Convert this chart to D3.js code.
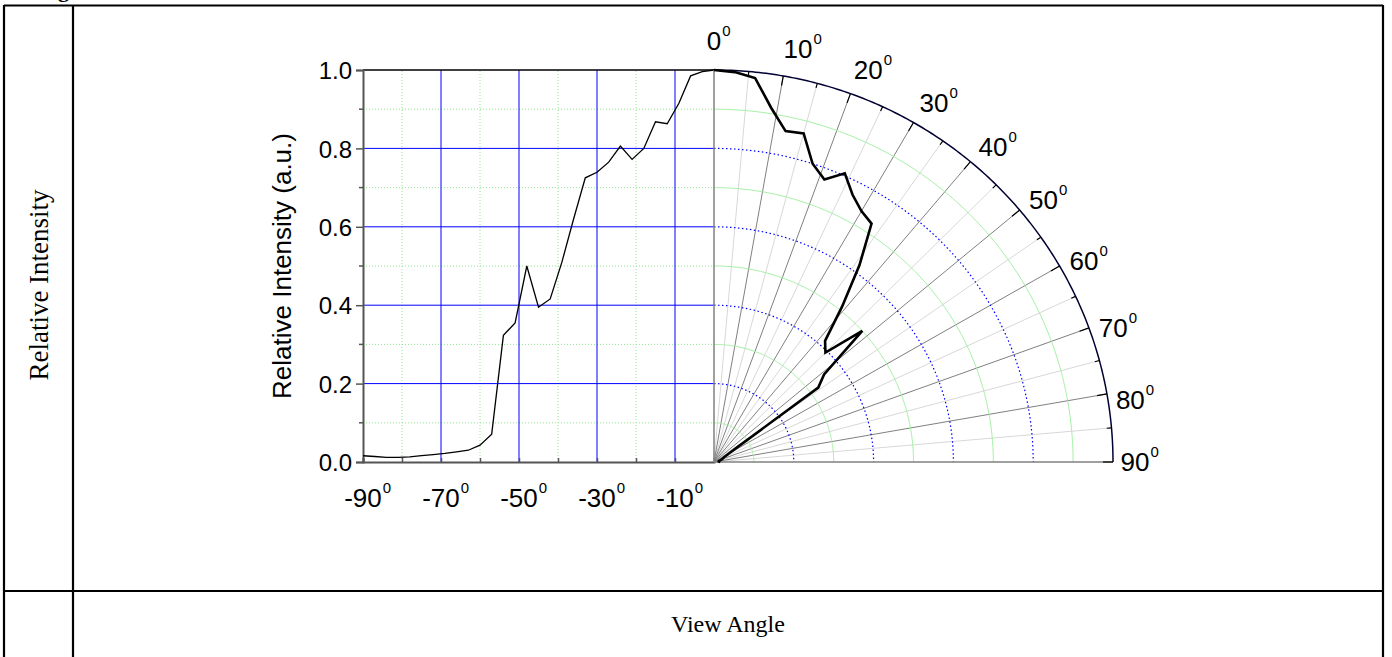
<!DOCTYPE html>
<html>
<head>
<meta charset="utf-8">
<script src="https://cdn.jsdelivr.net/npm/d3@7"></script>
<style>
  body { margin: 0; background: #fff; }
  svg { display: block; }
</style>
</head>
<body>
<svg width="1392" height="657"></svg>
<script>
// view angle (deg) and relative intensity, same curve both sides
var angles = [0,3,6,9,12,15,18,21,24,27,30,33,36,39,42,45,48,51,54,57,60,63,66,69,72,75,78,81,84,87,90];
var intensity = [1.0,0.996,0.985,0.915,0.863,0.868,0.800,0.772,0.806,0.765,0.739,0.725,0.62,0.51,0.416,0.395,0.50,0.355,0.323,0.071,0.043,0.030,0.026,0.022,0.019,0.016,0.013,0.012,0.012,0.014,0.016];

var yTicks = [0, 0.2, 0.4, 0.6, 0.8, 1.0];
var yTickLabels = ["0.0","0.2","0.4","0.6","0.8","1.0"];
var yMinor = [0.1, 0.3, 0.5, 0.7, 0.9];
var xTicks = [-90, -70, -50, -30, -10];
var xMinor = [-80, -60, -40, -20];
var polarLabels = [0,10,20,30,40,50,60,70,80,90];
var blueRings = [0.2, 0.4, 0.6, 0.8];
var greenRings = [0.1, 0.3, 0.5, 0.7, 0.9];

var svg = d3.select("svg");
var sans = "'Liberation Sans', Arial, sans-serif";
var serif = "'Liberation Serif', 'Times New Roman', serif";

// ---- table frame ----
var frame = svg.append("g").attr("stroke", "#000").attr("stroke-width", 2.2);
frame.append("line").attr("x1", 4).attr("x2", 1383).attr("y1", 5.5).attr("y2", 5.5);
frame.append("line").attr("x1", 4).attr("x2", 4).attr("y1", 5).attr("y2", 657);
frame.append("line").attr("x1", 73).attr("x2", 73).attr("y1", 5).attr("y2", 657);
frame.append("line").attr("x1", 1383).attr("x2", 1383).attr("y1", 5).attr("y2", 657);
frame.append("line").attr("x1", 4).attr("x2", 1383).attr("y1", 591).attr("y2", 591);

// caption line above the table, only its bottom edge shows
svg.append("text").attr("x", 30).attr("y", -3).attr("font-family", serif)
  .attr("font-size", 22).attr("font-weight", "bold").text("Angle");

svg.append("text")
  .attr("transform", "translate(48,285) rotate(-90)")
  .attr("text-anchor", "middle").attr("font-family", serif).attr("font-size", 27)
  .text("Relative Intensity");
svg.append("text").attr("x", 728).attr("y", 632)
  .attr("text-anchor", "middle").attr("font-family", serif).attr("font-size", 24)
  .text("View Angle");

// ---- cartesian half ----
var x = d3.scaleLinear().domain([-90, 0]).range([363, 714]);
var y = d3.scaleLinear().domain([0, 1]).range([462, 70]);

var g = svg.append("g");
g.selectAll(".gv").data(xMinor).enter().append("line")
  .attr("x1", d => x(d)).attr("x2", d => x(d)).attr("y1", y(0)).attr("y2", y(1))
  .attr("stroke", "#8fe88f").attr("stroke-dasharray", "1,2");
g.selectAll(".gh").data(yMinor).enter().append("line")
  .attr("x1", x(-90)).attr("x2", x(0)).attr("y1", d => y(d)).attr("y2", d => y(d))
  .attr("stroke", "#8fe88f").attr("stroke-dasharray", "1,2");
g.selectAll(".bv").data(xTicks.slice(1)).enter().append("line")
  .attr("x1", d => x(d)).attr("x2", d => x(d)).attr("y1", y(0)).attr("y2", y(1))
  .attr("stroke", "#0000ff");
g.selectAll(".bh").data([0.2, 0.4, 0.6, 0.8]).enter().append("line")
  .attr("x1", x(-90)).attr("x2", x(0)).attr("y1", d => y(d)).attr("y2", d => y(d))
  .attr("stroke", "#0000ff");
g.append("line").attr("x1", x(-90)).attr("x2", x(0)).attr("y1", y(1)).attr("y2", y(1))
  .attr("stroke", "#000").attr("stroke-width", 1.3);

// axes
var yAxis = g.append("g").attr("transform", "translate(" + x(-90) + ",0)")
  .call(d3.axisLeft(y).tickValues(yTicks).tickSize(7).tickFormat((d, i) => yTickLabels[i]));
yAxis.select(".domain").attr("stroke", "#555").attr("stroke-width", 2);
yAxis.selectAll(".tick line").attr("stroke", "#555").attr("stroke-width", 1.5);
yAxis.selectAll("text").attr("font-family", sans).attr("font-size", 24).attr("fill", "#000")
  .attr("x", -11).attr("dy", "0.36em");
yAxis.selectAll(".minor").data(yMinor).enter().append("line")
  .attr("x1", -4).attr("x2", 0).attr("y1", d => y(d)).attr("y2", d => y(d))
  .attr("stroke", "#555").attr("stroke-width", 1.5);

var xAxis = g.append("g").attr("transform", "translate(0," + y(0) + ")")
  .call(d3.axisBottom(x).tickValues(xTicks.concat(xMinor)).tickSize(-4).tickFormat(""));
xAxis.select(".domain").attr("stroke", "#555").attr("stroke-width", 2);
xAxis.selectAll(".tick line").attr("stroke", "#555").attr("stroke-width", 1.5);

xTicks.forEach(function(d) {
  var t = g.append("text").attr("x", x(d)).attr("y", 507).attr("text-anchor", "middle")
    .attr("font-family", sans).attr("font-size", 26).text(d);
  var w = t.node().getComputedTextLength();
  g.append("text").attr("x", x(d) + w / 2 + 1).attr("y", 493)
    .attr("font-family", sans).attr("font-size", 15).text("0");
});

svg.append("text")
  .attr("transform", "translate(291," + y(0.5) + ") rotate(-90)")
  .attr("text-anchor", "middle").attr("font-family", sans).attr("font-size", 26)
  .text("Relative Intensity (a.u.)");

// left curve
g.append("path").datum(angles.map((a, i) => [-a, intensity[i]]))
  .attr("fill", "none").attr("stroke", "#000").attr("stroke-width", 1.3)
  .attr("d", d3.line().x(d => x(d[0])).y(d => y(d[1])));

// ---- polar half ----
var cx = 714, cy = 462;
var rx = d3.scaleLinear().domain([0, 1]).range([0, 399]);
var ry = d3.scaleLinear().domain([0, 1]).range([0, 392]);
var rad = d => d * Math.PI / 180;
var px = (a, r) => cx + rx(r) * Math.sin(rad(a));
var py = (a, r) => cy - ry(r) * Math.cos(rad(a));
var sweep = d3.range(0, 90.25, 0.5);
var ring = r => d3.line().x(a => px(a, r)).y(a => py(a, r))(sweep);

var p = svg.append("g");
// radial spokes
p.selectAll(".sp5").data(d3.range(5, 90, 10)).enter().append("line")
  .attr("x1", cx).attr("y1", cy).attr("x2", a => px(a, 1)).attr("y2", a => py(a, 1))
  .attr("stroke", "#d8d8d8").attr("stroke-width", 1);
p.selectAll(".sp10").data(d3.range(10, 90, 10)).enter().append("line")
  .attr("x1", cx).attr("y1", cy).attr("x2", a => px(a, 1)).attr("y2", a => py(a, 1))
  .attr("stroke", "#808080").attr("stroke-width", 1);
// rings
p.selectAll(".rg").data(greenRings).enter().append("path")
  .attr("d", ring).attr("fill", "none").attr("stroke", "#a6f0a6").attr("stroke-width", 1);
p.selectAll(".rb").data(blueRings).enter().append("path")
  .attr("d", ring).attr("fill", "none").attr("stroke", "#0000ff").attr("stroke-width", 1.2)
  .attr("stroke-dasharray", "1.5,2.5");
// axes of the quadrant
p.append("line").attr("x1", cx).attr("y1", cy).attr("x2", cx).attr("y2", py(0, 1))
  .attr("stroke", "#808080").attr("stroke-width", 1.5);
p.append("line").attr("x1", cx).attr("y1", cy).attr("x2", px(90, 1)).attr("y2", cy)
  .attr("stroke", "#808080").attr("stroke-width", 1.5);
p.append("path").attr("d", ring(1)).attr("fill", "none").attr("stroke", "#000033").attr("stroke-width", 1.5);
// inward ticks on the rim
p.selectAll(".tk").data(d3.range(5, 91, 5)).enter().append("line")
  .attr("x1", a => px(a, 1)).attr("y1", a => py(a, 1))
  .attr("x2", a => px(a, a % 10 === 0 ? 0.975 : 0.988)).attr("y2", a => py(a, a % 10 === 0 ? 0.975 : 0.988))
  .attr("stroke", "#000").attr("stroke-width", 1.2);

polarLabels.forEach(function(a) {
  var la = (a === 0 || a === 90) ? a : a + 1.5;
  var lx = cx + 421 * Math.sin(rad(la)), ly = cy - 421 * Math.cos(rad(la));
  var t = p.append("text").attr("x", lx).attr("y", ly + 9).attr("text-anchor", "middle")
    .attr("font-family", sans).attr("font-size", 26).text(a);
  var w = t.node().getComputedTextLength();
  p.append("text").attr("x", lx + w / 2 + 1).attr("y", ly - 5)
    .attr("font-family", sans).attr("font-size", 15).text("0");
});

// polar curve
p.append("path").datum(angles.map((a, i) => [a, intensity[i]]))
  .attr("fill", "none").attr("stroke", "#000").attr("stroke-width", 2.6)
  .attr("stroke-linejoin", "miter")
  .attr("d", d3.line().x(d => px(d[0], d[1])).y(d => py(d[0], d[1])));
</script>
</body>
</html>
